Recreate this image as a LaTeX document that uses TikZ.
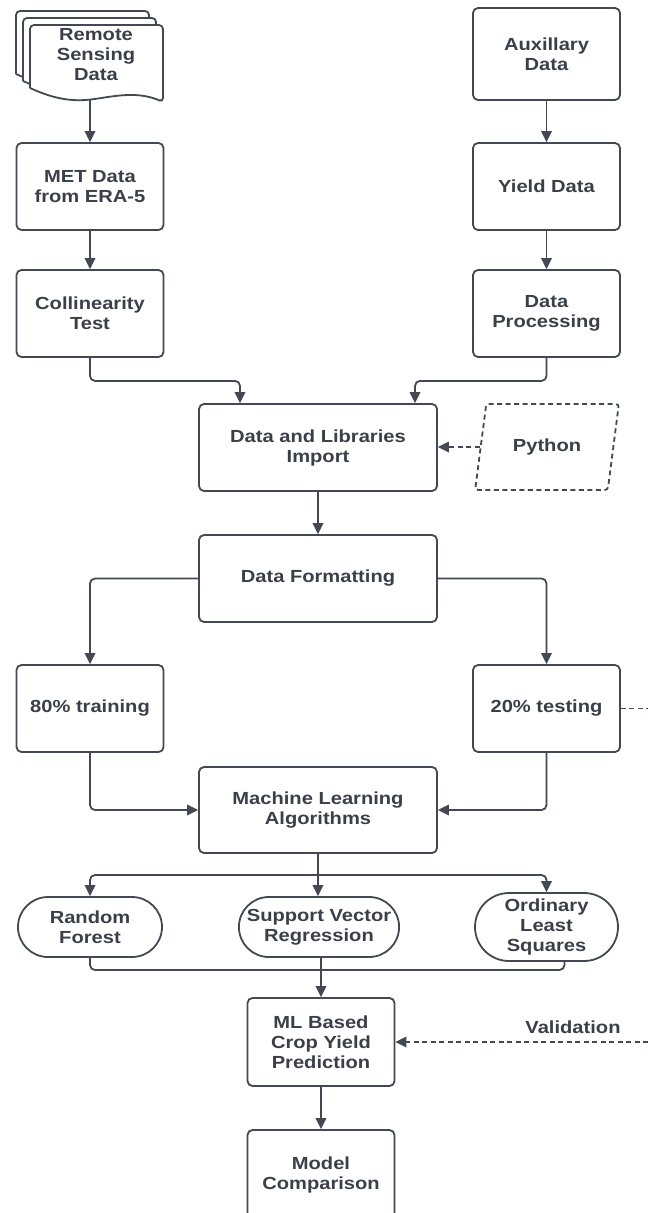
\documentclass[tikz,border=0pt]{standalone}
\usepackage{fontspec}
\setmainfont{Liberation Sans}[FakeStretch=1.15]
\usepackage{tikz}
\usetikzlibrary{arrows.meta,positioning,shapes.geometric,shapes.misc,calc}
\definecolor{FCline}{HTML}{434852}
\definecolor{FCtext}{HTML}{3B3F48}
\tikzset{
  fc/base/.style={draw=FCline, line width=1.8pt, fill=white, align=center, text=FCtext,
    font=\bfseries\fontsize{17.5}{20}\selectfont, inner sep=2pt},
  fc/process/.style={fc/base, rounded corners=5pt, minimum width=147pt, minimum height=87pt},
  fc/wide/.style={fc/process, minimum width=238pt},
  fc/term/.style={fc/base, rounded rectangle, minimum width=148pt, minimum height=60pt},
  fc/io/.style={fc/base, trapezium, trapezium left angle=72, trapezium right angle=108,
    trapezium stretches=true, minimum width=144pt, minimum height=86pt, dash pattern=on 5pt off 3.5pt, rounded corners=3pt},
  fc/doc/.style={draw=FCline, line width=1.8pt, fill=white, rounded corners=4pt},
  fc/label/.style={text=FCtext, font=\bfseries\fontsize{17.5}{20}\selectfont, inner sep=0pt},
  fc/arr/.style={draw=FCline, line width=1.8pt, rounded corners=5pt, -{Triangle[length=11pt,width=10.5pt]}},
  fc/line/.style={draw=FCline, line width=1.8pt, rounded corners=5pt},
  fc/dash/.style={fc/arr, dash pattern=on 5pt off 3.5pt}
}
\begin{document}
\begin{tikzpicture}[x=1pt, y=-1pt]
\useasboundingbox (0,0) rectangle (648,1213);
% stacked documents
\foreach \d in {14,7,0}
  \draw[fc/doc] (30-\d,88-\d) -- (30-\d,25-\d) -- (163-\d,25-\d) -- (163-\d,102-\d)
    .. controls (140-\d,92-\d) and (120-\d,95-\d) .. (95-\d,99-\d)
    .. controls (70-\d,102-\d) and (52-\d,98-\d) .. (30-\d,88-\d);
\node[fc/label, align=center] (rs) at (96,55) {Remote\\Sensing\\Data};
\coordinate (rsb) at (90,99);
% left and right columns
\node[fc/process] (met) at (90,186.5) {MET Data\\from ERA-5};
\node[fc/process] (coll) at (90,313.5) {Collinearity\\Test};
\node[fc/process, minimum height=92pt] (aux) at (546.5,54) {Auxillary\\Data};
\node[fc/process] (yld) at (546.5,186.5) {Yield Data};
\node[fc/process] (proc) at (546.5,313.5) {Data\\Processing};
% middle
\node[fc/wide] (imp) at (318,447.5) {Data and Libraries\\Import};
\node[fc/io] (py) at (547,447) {Python};
\node[fc/wide] (fmt) at (318,578.5) {Data Formatting};
\node[fc/process] (train) at (90,708.5) {80\% training};
\node[fc/process] (test) at (546.5,708.5) {20\% testing};
\node[fc/wide, minimum height=86pt] (ml) at (318,810) {Machine Learning\\Algorithms};
\node[fc/term] (rf) at (90,927) {Random\\Forest};
\node[fc/term, minimum width=157pt] (svr) at (319,927) {Support Vector\\Regression};
\node[fc/term, minimum width=147pt, minimum height=68pt] (ols) at (546.5,927) {Ordinary\\Least\\Squares};
\node[fc/process, minimum height=88pt] (pred) at (321,1042) {ML Based\\Crop Yield\\Prediction};
\node[fc/process, minimum height=90pt] (cmp) at (321,1175) {Model\\Comparison};
\node[fc/label] (val) at (573,1027) {Validation};
\coordinate (valin) at (648,1042);
\coordinate (testout) at (648,708.5);
\coordinate (split) at (318,875);
\coordinate (join) at (318,970);

\draw[fc/arr] (rsb) -- (met);
\draw[fc/arr] (met) -- (coll);
\draw[fc/arr] (aux) -- (yld);
\draw[fc/arr] (yld) -- (proc);
\draw[fc/arr] (coll.south) -- ++(0,23) -| ([xshift=-78pt]imp.north);
\draw[fc/arr] (proc.south) -- ++(0,23) -| ([xshift=97pt]imp.north);
\draw[fc/dash] (py.west) -- (py.west -| imp.east);
\draw[fc/arr] (imp) -- (fmt);
\draw[fc/arr] (fmt.west) -| (train.north);
\draw[fc/arr] (fmt.east) -| (test.north);
\draw[fc/dash, -] (test.east) -- (testout);
\draw[fc/arr] (train.south) |- (ml.west);
\draw[fc/arr] (test.south) |- (ml.east);
\draw[fc/arr] (ml.south) -- (ml.south |- svr.north);
\draw[fc/arr] (split) -| (rf.north);
\draw[fc/arr] (split) -| (ols.north);
\draw[fc/line] (rf.south) |- (join) -| ([xshift=18pt]ols.south);
\draw[fc/arr] (pred.north |- svr.south) -- (pred.north);
\draw[fc/dash] (valin) -- (pred.east);
\draw[fc/arr] (pred) -- (cmp);
\end{tikzpicture}
\end{document}
